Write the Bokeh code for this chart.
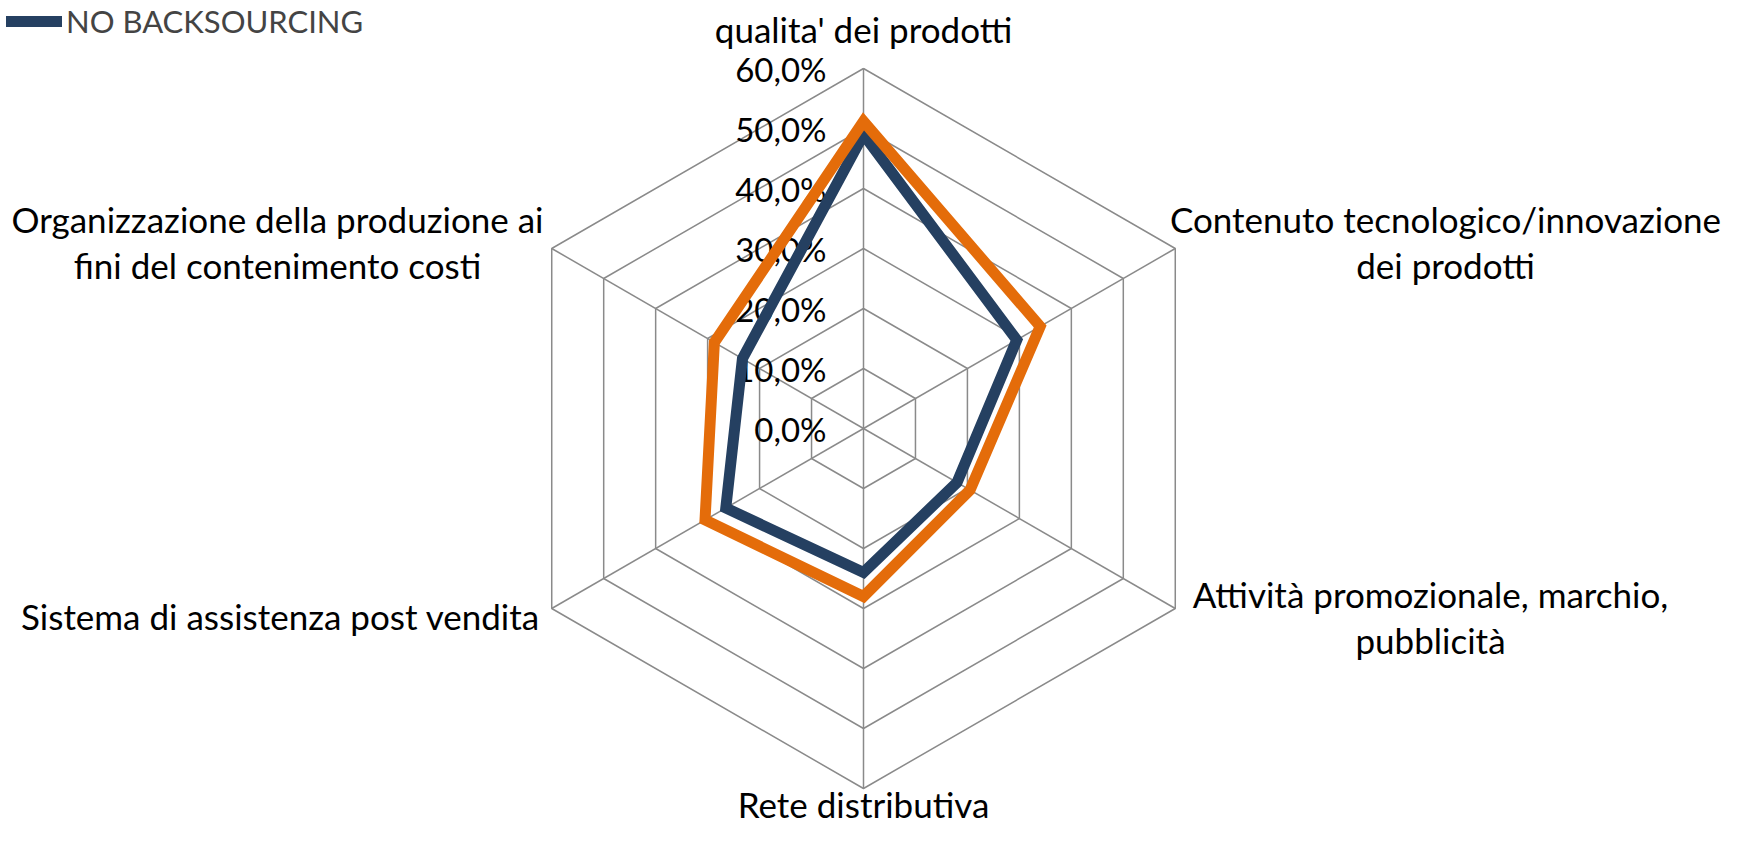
import numpy as np
from bokeh.plotting import figure
from bokeh.models import Range1d, Legend, LegendItem
from bokeh.core.properties import value
from bokeh.embed import file_html
from bokeh.resources import INLINE

# ---------------- data ----------------
categories = [
    "qualita' dei prodotti",
    "Contenuto tecnologico/innovazione\ndei prodotti",
    "Attività promozionale, marchio,\npubblicità",
    "Rete distributiva",
    "Sistema di assistenza post vendita",
    "Organizzazione della produzione ai\nfini del contenimento costi",
]
no_backsourcing = [49.0, 29.5, 18.0, 24.0, 26.5, 23.3]
backsourcing = [51.2, 34.0, 20.5, 28.0, 30.5, 28.7]
tick_values = [0, 10, 20, 30, 40, 50, 60]
tick_labels = ["0,0%", "10,0%", "20,0%", "30,0%", "40,0%", "50,0%", "60,0%"]
legend_label = "NO BACKSOURCING"

# ---------------- layout ----------------
W, H = 1723, 827
CX, CY = 863, 428          # centre of the radar in figure pixels
RMAX = 360.0               # radius of the outer ring (60%)
VMAX = 60.0
FONT = "Lato"
BLUE = "#254061"
ORANGE = "#E46C0A"
GRID = "#8A8A8A"

# label anchors (px relative to centre) and line spacing
label_anchor = [(0, 400), (582, 210), (567, -165), (0, -375), (-583, -187), (-586, 210)]
LINE_GAP = 46

p = figure(width=W, height=H, x_range=Range1d(-CX, W - CX), y_range=Range1d(-(H - CY), CY),
           output_backend="svg", toolbar_location=None, min_border=0,
           outline_line_color=None)
p.axis.visible = False
p.grid.visible = False
p.background_fill_color = "white"

n = len(categories)
theta = np.pi / 2 - np.arange(n) * 2 * np.pi / n


def to_xy(vals):
    r = np.asarray(vals, dtype=float) / VMAX * RMAX
    return r * np.cos(theta), r * np.sin(theta)


# grid rings
for v in tick_values[1:]:
    gx, gy = to_xy([v] * n)
    p.line(list(gx) + [gx[0]], list(gy) + [gy[0]], line_color=GRID, line_width=1.5)
# spokes
ox, oy = to_xy([VMAX] * n)
p.multi_line([[0, x] for x in ox], [[0, y] for y in oy], line_color=GRID, line_width=1.5)

# tick labels
p.text(x=[-37] * len(tick_values), y=[v / VMAX * RMAX for v in tick_values], text=tick_labels,
       text_align="right", text_baseline="middle", text_font=value(FONT),
       text_font_size="33px", text_color="#000000")


def closed(vals):
    x, y = to_xy(vals)
    return list(x) + [x[0], x[1]], list(y) + [y[0], y[1]]


bx, by = closed(no_backsourcing)
r_blue = p.line(bx, by, line_color=BLUE, line_width=11, line_join="miter", line_cap="round")
ox2, oy2 = closed(backsourcing)
p.line(ox2, oy2, line_color=ORANGE, line_width=11, line_join="miter")

# category labels
lx, ly, lt = [], [], []
for (ax, ay), lab in zip(label_anchor, categories):
    for k, line in enumerate(lab.split("\n")):
        lx.append(ax)
        ly.append(ay - k * LINE_GAP)
        lt.append(line)
p.text(x=lx, y=ly, text=lt, text_align="center", text_baseline="middle",
       text_font=value(FONT), text_font_size="35px", text_color="#000000")

legend = Legend(items=[LegendItem(label=legend_label, renderers=[r_blue])],
                location=(6, H - 40), padding=0, margin=0, spacing=0,
                glyph_width=56, glyph_height=24, label_standoff=4,
                label_text_font=FONT, label_text_font_size="31px",
                border_line_alpha=0, background_fill_alpha=0)
p.add_layout(legend)

open("out.html", "w").write(file_html(p, INLINE))
